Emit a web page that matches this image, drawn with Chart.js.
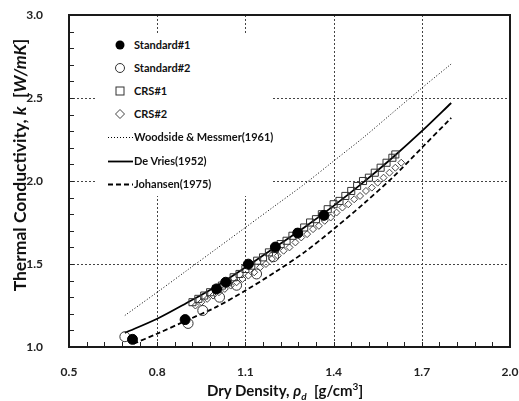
<!DOCTYPE html>
<html>
<head>
<meta charset="utf-8">
<script src="https://cdn.jsdelivr.net/npm/chart.js@4"></script>
<style>
  body { margin: 0; background: #fff; }
  #wrap { position: relative; width: 519px; height: 401px; font-family: Lato, "Open Sans", sans-serif; color: #111; }
  #legend { position: absolute; left: 96px; top: 34px; width: 176px; height: 162px; background: #fff; }
  .lg-row { position: absolute; left: 11px; height: 16px; font-size: 11px; font-weight: bold; line-height: 16px; white-space: nowrap; }
  .lg-row svg { position: absolute; left: 0; top: 0; }
  .lg-row span { position: absolute; left: 27px; top: 0; }
  #ytitle { position: absolute; left: -130px; top: 155px; width: 300px; height: 20px; line-height: 20px; text-align: center;
            transform: rotate(-90deg); font-size: 17.5px; font-weight: bold; white-space: nowrap; }
  #xtitle { position: absolute; left: 135px; top: 376px; width: 300px; height: 20px; line-height: 20px; text-align: center;
            font-size: 15px; font-weight: bold; white-space: nowrap; }
  #frame { position: absolute; left: 68px; top: 14px; width: 443px; height: 334px; box-sizing: border-box;
           border: 2px solid #1a1a1a; pointer-events: none; }
</style>
</head>
<body>
<div id="wrap">
  <canvas id="chart" width="519" height="401"></canvas>
  <div id="legend"></div>
  <div id="frame"></div>
  <div id="ytitle">Thermal Conductivity, <i>k</i> &nbsp;[<i>W/mK</i>]</div>
  <div id="xtitle">Dry Density, <i>ρ<sub style="font-size:10px">d</sub></i> &nbsp;[g/cm<sup style="font-size:10px">3</sup>]</div>
</div>
<script>
// measured data
const std1X = [0.716, 0.895, 1.002, 1.033, 1.110, 1.202, 1.278, 1.367];
const std1Y = [1.046, 1.165, 1.350, 1.390, 1.499, 1.602, 1.686, 1.793];
const std2X = [0.690, 0.905, 0.955, 1.012, 1.070, 1.138, 1.196];
const std2Y = [1.062, 1.142, 1.220, 1.300, 1.372, 1.440, 1.544];
const crs1X = [0.92, 0.94, 0.96, 0.98, 1.00, 1.02, 1.04, 1.06, 1.08, 1.10, 1.12, 1.14, 1.16, 1.18, 1.20, 1.22, 1.24, 1.26,
               1.28, 1.30, 1.32, 1.34, 1.36, 1.38, 1.40, 1.42, 1.44, 1.46, 1.48, 1.50, 1.52, 1.54, 1.56, 1.58, 1.60, 1.61];
const crs1Y = [1.27, 1.29, 1.31, 1.33, 1.35, 1.37, 1.39, 1.42, 1.44, 1.47, 1.49, 1.52, 1.54, 1.57, 1.59, 1.62, 1.64, 1.67,
               1.69, 1.72, 1.75, 1.77, 1.80, 1.83, 1.86, 1.88, 1.91, 1.94, 1.97, 2.00, 2.02, 2.05, 2.08, 2.11, 2.14, 2.16];
const crs2X = [0.93, 0.95, 0.97, 0.99, 1.01, 1.03, 1.05, 1.07, 1.09, 1.11, 1.13, 1.15, 1.17, 1.19, 1.21, 1.23, 1.25, 1.27,
               1.29, 1.31, 1.33, 1.35, 1.37, 1.39, 1.41, 1.43, 1.45, 1.47, 1.49, 1.51, 1.53, 1.55, 1.57, 1.59, 1.61, 1.63];
const crs2Y = [1.25, 1.27, 1.29, 1.31, 1.33, 1.35, 1.37, 1.39, 1.41, 1.43, 1.45, 1.48, 1.50, 1.53, 1.55, 1.58, 1.60, 1.63,
               1.66, 1.68, 1.71, 1.73, 1.76, 1.78, 1.81, 1.84, 1.86, 1.89, 1.91, 1.94, 1.96, 1.99, 2.02, 2.05, 2.08, 2.11];

// model curves
const woodX = [0.69, 0.8, 0.9, 1.0, 1.1, 1.2, 1.3, 1.4, 1.5, 1.6, 1.7, 1.8];
const woodY = [1.19, 1.33, 1.46, 1.59, 1.72, 1.85, 1.98, 2.12, 2.26, 2.41, 2.56, 2.705];
const devrX = [0.69, 0.8, 0.9, 1.0, 1.1, 1.2, 1.3, 1.4, 1.5, 1.6, 1.7, 1.8];
const devrY = [1.085, 1.17, 1.265, 1.365, 1.48, 1.60, 1.72, 1.85, 1.99, 2.14, 2.30, 2.47];
const johaX = [0.72, 0.8, 0.9, 1.0, 1.1, 1.2, 1.3, 1.4, 1.5, 1.6, 1.7, 1.8];
const johaY = [1.02, 1.08, 1.16, 1.24, 1.34, 1.45, 1.57, 1.71, 1.86, 2.02, 2.20, 2.38];

const xTicks = [0.5, 0.8, 1.1, 1.4, 1.7, 2.0];
const yTicks = [1.0, 1.5, 2.0, 2.5, 3.0];
const xMinor = [0.56, 0.62, 0.68, 0.74, 0.8, 0.86, 0.92, 0.98, 1.04, 1.1, 1.16, 1.22, 1.28, 1.34, 1.4,
                1.46, 1.52, 1.58, 1.64, 1.7, 1.76, 1.82, 1.88, 1.94];
const yMinor = [1.1, 1.2, 1.3, 1.4, 1.5, 1.6, 1.7, 1.8, 1.9, 2.0, 2.1, 2.2, 2.3, 2.4, 2.5, 2.6, 2.7, 2.8, 2.9];

const pts = (xs, ys) => xs.map((x, i) => ({ x, y: ys[i] }));

const series = [
  { label: 'Standard#1', data: pts(std1X, std1Y), kind: 'fcircle', order: 0,
    pointStyle: 'circle', pointRadius: 5, backgroundColor: '#000', borderColor: '#000', borderWidth: 1, showLine: false },
  { label: 'Standard#2', data: pts(std2X, std2Y), kind: 'ocircle', order: 1,
    pointStyle: 'circle', pointRadius: 5, backgroundColor: 'rgba(255,255,255,0)', borderColor: '#333', borderWidth: 1, showLine: false },
  { label: 'CRS#1', data: pts(crs1X, crs1Y), kind: 'square', order: 2,
    pointStyle: 'rect', pointRadius: 5, backgroundColor: 'rgba(255,255,255,0)', borderColor: '#333', borderWidth: 1, showLine: false },
  { label: 'CRS#2', data: pts(crs2X, crs2Y), kind: 'diamond', order: 3,
    pointStyle: 'rectRot', pointRadius: 3.5, backgroundColor: 'rgba(255,255,255,0)', borderColor: '#444', borderWidth: 1, showLine: false },
  { label: 'Woodside & Messmer(1961)', data: pts(woodX, woodY), kind: 'line', dash: [1, 2], order: 4,
    showLine: true, pointRadius: 0, borderColor: '#000', borderWidth: 1, borderDash: [1, 2], tension: 0.3, fill: false },
  { label: 'De Vries(1952)', data: pts(devrX, devrY), kind: 'line', dash: [], order: 5,
    showLine: true, pointRadius: 0, borderColor: '#000', borderWidth: 1.8, tension: 0.3, fill: false },
  { label: 'Johansen(1975)', data: pts(johaX, johaY), kind: 'line', dash: [5, 3], order: 6,
    showLine: true, pointRadius: 0, borderColor: '#000', borderWidth: 1.8, borderDash: [5, 3], tension: 0.3, fill: false }
];

// dashed grid and inner minor ticks, drawn under the marks
const gridPlugin = {
  id: 'dashGrid',
  beforeDatasetsDraw(chart) {
    const { ctx, chartArea: a, scales: { x, y } } = chart;
    ctx.save();
    ctx.strokeStyle = '#444';
    ctx.lineWidth = 1;
    ctx.setLineDash([2, 2]);
    ctx.beginPath();
    xTicks.slice(1, -1).forEach(v => {
      const px = Math.round(x.getPixelForValue(v)) + 0.5;
      ctx.moveTo(px, a.top); ctx.lineTo(px, a.bottom);
    });
    yTicks.slice(1, -1).forEach(v => {
      const py = Math.round(y.getPixelForValue(v)) + 0.5;
      ctx.moveTo(a.left, py); ctx.lineTo(a.right, py);
    });
    ctx.stroke();
    ctx.restore();

    ctx.save();
    ctx.strokeStyle = '#222';
    ctx.lineWidth = 1;
    ctx.beginPath();
    xMinor.forEach(v => {
      const px = Math.round(x.getPixelForValue(v)) + 0.5;
      ctx.moveTo(px, a.bottom); ctx.lineTo(px, a.bottom - 5);
    });
    yMinor.forEach(v => {
      const py = Math.round(y.getPixelForValue(v)) + 0.5;
      ctx.moveTo(a.left, py); ctx.lineTo(a.left + 5, py);
    });
    ctx.stroke();
    ctx.restore();
  }
};

const tickFont = { family: 'Lato, "Open Sans", sans-serif', size: 12, weight: 'bold' };
const frameBorder = { display: true, color: '#1a1a1a', width: 2 };

new Chart(document.getElementById('chart'), {
  type: 'scatter',
  data: { datasets: series.map(s => ({ ...s, clip: false })) },
  options: {
    responsive: false,
    animation: false,
    layout: { padding: { left: 0, right: 9, top: 15, bottom: 0 } },
    plugins: { legend: { display: false }, tooltip: { enabled: false } },
    scales: {
      x: {
        type: 'linear', min: 0.5, max: 2.0,
        ticks: { stepSize: 0.3, padding: 10, color: '#222', font: tickFont, callback: v => v.toFixed(1) },
        grid: { display: false }, border: frameBorder,
        afterFit: s => { s.height = 54; s.paddingLeft = 0; s.paddingRight = 0; }
      },
      y: {
        type: 'linear', min: 1.0, max: 3.0,
        ticks: { stepSize: 0.5, padding: 18, color: '#222', font: tickFont, callback: v => v.toFixed(1) },
        grid: { display: false }, border: frameBorder,
        afterFit: s => { s.width = 69; s.paddingTop = 0; s.paddingBottom = 0; }
      },
      xTop: {
        type: 'linear', position: 'top', min: 0.5, max: 2.0,
        ticks: { display: false }, grid: { display: false }, border: frameBorder,
        afterFit: s => { s.height = 0; s.paddingLeft = 0; s.paddingRight = 0; }
      },
      yRight: {
        type: 'linear', position: 'right', min: 1.0, max: 3.0,
        ticks: { display: false }, grid: { display: false }, border: frameBorder,
        afterFit: s => { s.width = 0; s.paddingTop = 0; s.paddingBottom = 0; }
      }
    }
  },
  plugins: [gridPlugin]
});

// legend box drawn over the plot, hides the grid like the original
function legendSymbol(s) {
  if (s.kind === 'fcircle') return '<svg width="26" height="16"><circle cx="13" cy="8" r="4.5" fill="#000"/></svg>';
  if (s.kind === 'ocircle') return '<svg width="26" height="16"><circle cx="13" cy="8" r="4.5" fill="none" stroke="#333"/></svg>';
  if (s.kind === 'square') return '<svg width="26" height="16"><rect x="9" y="4" width="8" height="8" fill="none" stroke="#333"/></svg>';
  if (s.kind === 'diamond') return '<svg width="26" height="16"><path d="M13 3.5 L17.5 8 L13 12.5 L8.5 8 Z" fill="none" stroke="#444"/></svg>';
  const dash = s.dash.length ? ` stroke-dasharray="${s.dash.join(',')}"` : '';
  return `<svg width="26" height="16"><line x1="1" y1="8.5" x2="26" y2="8.5" stroke="#000" stroke-width="${s.borderWidth}"${dash}/></svg>`;
}
const legendEl = document.getElementById('legend');
series.forEach((s, i) => {
  const row = document.createElement('div');
  row.className = 'lg-row';
  row.style.top = (3 + i * 23.1) + 'px';
  row.innerHTML = legendSymbol(s) + '<span>' + s.label.replace('&', '&amp;') + '</span>';
  legendEl.appendChild(row);
});
</script>
</body>
</html>
